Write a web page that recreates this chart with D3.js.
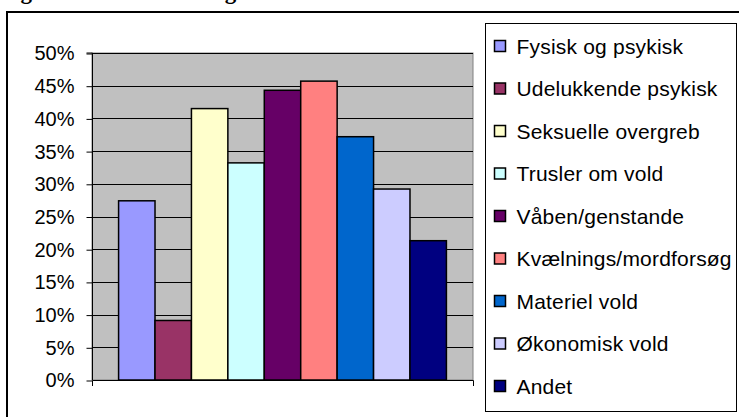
<!DOCTYPE html>
<html lang="da">
<head>
  <meta charset="utf-8" />
  <title>Voldsformer</title>
  <script type="text/javascript" src="https://cdn.jsdelivr.net/npm/d3@7"></script>
  <style>
    body { margin: 0; background: white; }
    text { font-family: Arial, "Liberation Sans", sans-serif; }
  </style>
</head>
<body>

<script type="text/javascript">

// Data
var categories = ["Fysisk og psykisk", "Udelukkende psykisk", "Seksuelle overgreb",
                  "Trusler om vold", "Våben/genstande", "Kvælnings/mordforsøg",
                  "Materiel vold", "Økonomisk vold", "Andet"];
var values = [0.274, 0.091, 0.415, 0.332, 0.443, 0.457, 0.372, 0.292, 0.213];
var colors = ["#9999FF", "#993366", "#FFFFCC", "#CCFFFF", "#660066",
              "#FF8080", "#0066CC", "#CCCCFF", "#000080"];
var yTicks = [0, 0.05, 0.1, 0.15, 0.2, 0.25, 0.3, 0.35, 0.4, 0.45, 0.5];

var w = 739;
var h = 417;
var plot = {left: 92, right: 473, top: 53, bottom: 380};

var svg = d3.select("body")
            .append("svg")
            .attr("width", w)
            .attr("height", h);

// title, mostly cut off above the picture
svg.append("text")
   .attr("x", 0)
   .attr("y", -1.5)
   .attr("font-weight", "bold")
   .attr("font-size", 23)
   .style("font-family", "'Liberation Serif', 'Times New Roman', serif")
   .text("Figur 1: Voldsformer og tilfælde");

// outer chart frame
svg.append("rect")
   .attr("x", 7)
   .attr("y", 12)
   .attr("width", 760)
   .attr("height", 430)
   .attr("fill", "white")
   .attr("stroke", "black")
   .attr("stroke-width", 2);

var xScale = d3.scaleBand()
               .domain(categories)
               .range([plot.left, plot.right])
               .paddingInner(0)
               .paddingOuter(0.73);
var yScale = d3.scaleLinear()
               .domain([0, 0.5])
               .range([plot.bottom, plot.top]);

// plot area
svg.append("rect")
   .attr("x", plot.left)
   .attr("y", plot.top)
   .attr("width", plot.right - plot.left)
   .attr("height", plot.bottom - plot.top)
   .attr("fill", "#C0C0C0")
   .attr("stroke", "#808080")
   .attr("stroke-width", 1);

// gridlines
svg.selectAll("line.grid")
   .data(yTicks.slice(1))
   .enter()
   .append("line")
   .attr("class", "grid")
   .attr("x1", plot.left)
   .attr("x2", plot.right)
   .attr("y1", function(d) { return Math.round(yScale(d)) + 0.5; })
   .attr("y2", function(d) { return Math.round(yScale(d)) + 0.5; })
   .attr("stroke", "black")
   .attr("stroke-width", 1);

// bars
svg.selectAll("rect.bar")
   .data(values)
   .enter()
   .append("rect")
   .attr("class", "bar")
   .attr("x", function(d, i) { return xScale(categories[i]); })
   .attr("y", function(d) { return yScale(d); })
   .attr("width", xScale.bandwidth())
   .attr("height", function(d) { return yScale(0) - yScale(d); })
   .attr("fill", function(d, i) { return colors[i]; })
   .attr("stroke", "black")
   .attr("stroke-width", 1.5);

// y axis
var yAxis = d3.axisLeft(yScale)
              .tickValues(yTicks)
              .tickSize(6)
              .tickPadding(12)
              .tickFormat(d3.format(".0%"));
var gy = svg.append("g")
            .attr("transform", "translate(" + (plot.left + 0.5) + ",0.5)")
            .call(yAxis);
gy.select(".domain").attr("d", "M-6," + (plot.top - 0.5) + "H0V" + (plot.bottom - 0.5));
gy.selectAll(".tick text")
  .attr("font-size", 20)
  .attr("font-family", "Arial, 'Liberation Sans', sans-serif")
  .attr("fill", "black");

// x axis line with end ticks
svg.append("path")
   .attr("d", "M" + (plot.left + 0.5) + "," + (plot.bottom + 6) + "V" + (plot.bottom + 0.5) +
              "H" + (plot.right + 0.5) + "V" + (plot.bottom + 6))
   .attr("fill", "none")
   .attr("stroke", "black")
   .attr("stroke-width", 1);

// legend
var lg = {x: 485.5, y: 23.5, w: 251, h: 388, first: 46, step: 42.5};
svg.append("rect")
   .attr("x", lg.x)
   .attr("y", lg.y)
   .attr("width", lg.w)
   .attr("height", lg.h)
   .attr("fill", "white")
   .attr("stroke", "black")
   .attr("stroke-width", 1);

var items = svg.selectAll("g.legend")
               .data(categories)
               .enter()
               .append("g")
               .attr("class", "legend")
               .attr("transform", function(d, i) {
                 return "translate(" + (lg.x + 9) + "," + (lg.first + i * lg.step) + ")";
               });
items.append("rect")
     .attr("x", 0)
     .attr("y", -5.5)
     .attr("width", 11)
     .attr("height", 11)
     .attr("fill", function(d, i) { return colors[i]; })
     .attr("stroke", "black")
     .attr("stroke-width", 1.5);
items.append("text")
     .attr("x", 22)
     .attr("y", 7.5)
     .attr("font-size", 21)
     .attr("letter-spacing", 0.2)
     .attr("fill", "black")
     .text(function(d) { return d; });

</script>

</body>
</html>
